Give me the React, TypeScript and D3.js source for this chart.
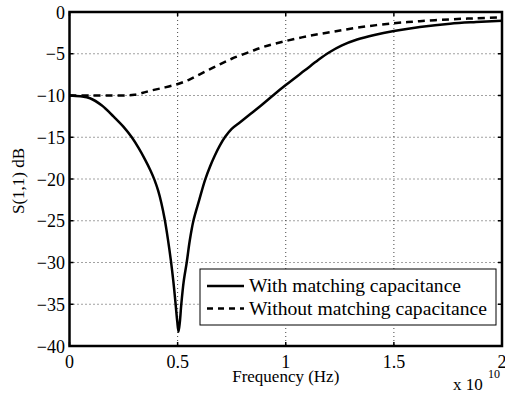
import React from "react";
import * as d3 from "d3";

const freqWith = [0, 0.05, 0.095, 0.15, 0.203, 0.25, 0.288, 0.32, 0.35, 0.375, 0.393, 0.41, 0.425, 0.44, 0.455, 0.469, 0.48, 0.49, 0.498, 0.504, 0.51, 0.517, 0.528, 0.542, 0.556, 0.573, 0.6, 0.627, 0.65, 0.67, 0.695, 0.72, 0.75, 0.789, 0.835, 0.89, 0.945, 1.0, 1.09, 1.15, 1.2, 1.26, 1.33, 1.41, 1.5, 1.62, 1.76, 1.88, 2.0];
const dbWith = [-10, -10.1, -10.33, -11.2, -12.5, -13.75, -15.0, -16.3, -17.7, -19.0, -20.1, -21.4, -22.9, -24.8, -27.2, -29.8, -32.2, -34.8, -37.0, -38.3, -37.2, -35.0, -32.3, -30.0, -27.4, -25.0, -22.5, -20.1, -18.5, -17.3, -16.0, -14.95, -14.0, -13.2, -12.25, -11.1, -9.9, -8.75, -6.95, -5.75, -4.85, -4.0, -3.3, -2.75, -2.28, -1.8, -1.4, -1.2, -1.04];

const freqWithout = [0, 0.1, 0.2, 0.266, 0.3, 0.34, 0.373, 0.43, 0.498, 0.55, 0.6, 0.65, 0.7, 0.75, 0.836, 0.9, 0.988, 1.1, 1.22, 1.35, 1.5, 1.62, 1.76, 1.88, 2.0];
const dbWithout = [-10, -10, -10, -10, -9.92, -9.67, -9.43, -9.1, -8.65, -8.15, -7.5, -6.85, -6.2, -5.6, -4.75, -4.15, -3.55, -2.9, -2.36, -1.8, -1.35, -1.1, -0.88, -0.75, -0.64];

const xTicks = [0, 0.5, 1, 1.5, 2];
const xTickLabels = ["0", "0.5", "1", "1.5", "2"];
const yTicks = [-40, -35, -30, -25, -20, -15, -10, -5, 0];

const seriesNames = ["With matching capacitance", "Without matching capacitance"];

const W = 505;
const H = 401;
const L = 69.5, R = 502, T = 12, B = 346;
const FONT = "Liberation Serif, Times New Roman, DejaVu Serif, serif";

export default function App() {
  const x = d3.scaleLinear().domain([0, 2]).range([L, R]);
  const y = d3.scaleLinear().domain([-40, 0]).range([B, T]);
  const line = d3
    .line<[number, number]>()
    .x((d) => x(d[0]))
    .y((d) => y(d[1]))
    .curve(d3.curveCatmullRom.alpha(0.5));
  const withPts: [number, number][] = freqWith.map((f, i) => [f, dbWith[i]]);
  const withoutPts: [number, number][] = freqWithout.map((f, i) => [f, dbWithout[i]]);
  const minus = (v: number) => (v < 0 ? "\u2212" + Math.abs(v) : String(v));
  const ts = (size: number) => ({ fontFamily: FONT, fontSize: size + "px" });

  return (
    <svg
      width={W}
      height={H}
      style={{ position: "absolute", left: 0, top: 0, background: "#fff", fontFamily: FONT }}
    >
      <rect x={0} y={0} width={W} height={H} fill="#fff" />
      {/* grid */}
      {xTicks.slice(1, -1).map((t) => (
        <line key={"gx" + t} x1={x(t)} x2={x(t)} y1={T} y2={B} stroke="#444" strokeWidth={1} strokeDasharray="1,3" />
      ))}
      {yTicks.slice(1, -1).map((t) => (
        <line key={"gy" + t} x1={L} x2={R} y1={y(t)} y2={y(t)} stroke="#444" strokeWidth={1} strokeDasharray="1,3" />
      ))}
      {/* ticks */}
      {xTicks.map((t) => (
        <g key={"tx" + t}>
          <line x1={x(t)} x2={x(t)} y1={B} y2={B - 4} stroke="#000" strokeWidth={1.5} />
          <line x1={x(t)} x2={x(t)} y1={T} y2={T + 4} stroke="#000" strokeWidth={1.5} />
        </g>
      ))}
      {yTicks.map((t) => (
        <g key={"ty" + t}>
          <line x1={L} x2={L + 4} y1={y(t)} y2={y(t)} stroke="#000" strokeWidth={1.5} />
          <line x1={R} x2={R - 4} y1={y(t)} y2={y(t)} stroke="#000" strokeWidth={1.5} />
        </g>
      ))}
      {/* curves */}
      <path d={line(withoutPts) || ""} fill="none" stroke="#000" strokeWidth={2.5} strokeDasharray="7,5" />
      <path d={line(withPts) || ""} fill="none" stroke="#000" strokeWidth={2.5} strokeLinejoin="round" />
      {/* axes box */}
      <rect x={L} y={T} width={R - L} height={B - T} fill="none" stroke="#000" strokeWidth={2.5} />
      {/* tick labels */}
      {xTicks.map((t, i) => (
        <text key={"lx" + t} x={x(t)} y={368} textAnchor="middle" style={ts(18)} fill="#000">
          {xTickLabels[i]}
        </text>
      ))}
      {yTicks.map((t) => (
        <text key={"ly" + t} x={65} y={y(t) + 6.5} textAnchor="end" style={ts(18)} fill="#000">
          {minus(t)}
        </text>
      ))}
      {/* axis labels */}
      <text x={x(1)} y={382} textAnchor="middle" style={ts(17)} fill="#000">
        Frequency (Hz)
      </text>
      <text transform={`translate(24,${(T + B) / 2 + 2}) rotate(-90)`} textAnchor="middle" style={ts(17)} fill="#000">
        S(1,1) dB
      </text>
      <text x={453} y={390} style={ts(17)} fill="#000">
        x 10
      </text>
      <text x={488} y={378} style={ts(12)} fill="#000">
        10
      </text>
      {/* legend */}
      <rect x={200} y={269} width={296} height={56} fill="#fff" stroke="#000" strokeWidth={1} />
      <line x1={207} x2={244} y1={286} y2={286} stroke="#000" strokeWidth={2.5} />
      <line x1={207} x2={244} y1={308.5} y2={308.5} stroke="#000" strokeWidth={2.5} strokeDasharray="6,5" />
      <text x={249} y={292} style={ts(18)} fill="#000" textLength={212} lengthAdjust="spacingAndGlyphs">
        {seriesNames[0]}
      </text>
      <text x={249} y={315} style={ts(18)} fill="#000" textLength={238} lengthAdjust="spacingAndGlyphs">
        {seriesNames[1]}
      </text>
    </svg>
  );
}
